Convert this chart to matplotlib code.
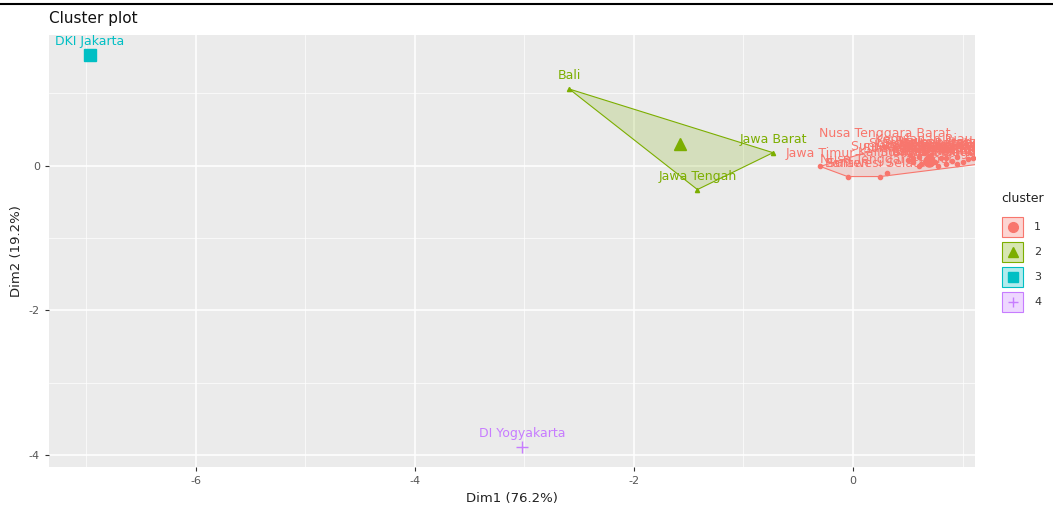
import matplotlib
matplotlib.use("Agg")
import matplotlib.pyplot as plt
from matplotlib.lines import Line2D
from matplotlib.patches import Rectangle, Polygon
import numpy as np

# ─────────────────────────────────────────────
#  DATA
# ─────────────────────────────────────────────
provinsi = [
    "Jawa Timur", "Banten", "Sulawesi Selatan", "Nusa Tenggara Timur",
    "Nusa Tenggara Barat", "Sumatera Utara", "Lampung", "Sumatera Selatan",
    "Aceh", "Sumatera Barat", "Riau", "Jambi", "Bengkulu",
    "Kep. Bangka Belitung", "Kepulauan Riau", "Kalimantan Barat",
    "Kalimantan Tengah", "Kalimantan Selatan", "Kalimantan Timur",
    "Kalimantan Utara", "Sulawesi Utara", "Sulawesi Tengah",
    "Sulawesi Tenggara", "Gorontalo", "Sulawesi Barat", "Maluku",
    "Maluku Utara", "Papua Barat", "Papua",
    "Bali", "Jawa Barat", "Jawa Tengah",
    "DKI Jakarta",
    "DI Yogyakarta",
]
dim1 = [
    -0.30, -0.05, 0.25, 0.31, 0.29, 0.55, 0.62, 0.50, 0.55, 0.60, 0.52,
    0.70, 0.75, 0.80, 0.65, 0.85, 0.90, 0.60, 0.95, 1.00, 0.70, 0.85,
    0.78, 0.95, 1.05, 1.10, 1.15, 1.25, 1.35,
    -2.59, -0.73, -1.42,
    -6.97,
    -3.02,
]
dim2 = [
    -0.01, -0.15, -0.15, -0.10, 0.26, 0.05, 0.02, 0.08, 0.10, 0.12, 0.15,
    0.08, 0.05, 0.10, 0.18, 0.02, 0.07, 0.00, 0.12, 0.05, 0.14, 0.10,
    0.00, 0.03, 0.09, 0.11, 0.06, 0.04, 0.13,
    1.06, 0.18, -0.33,
    1.53,
    -3.89,
]
cluster = [1] * 29 + [2] * 3 + [3] + [4]

x_ticks = [-6, -4, -2, 0]
y_ticks = [0, -2, -4]

# ─────────────────────────────────────────────
#  STYLE
# ─────────────────────────────────────────────
WARNA = {1: "#F8766D", 2: "#7CAE00", 3: "#00BFC4", 4: "#C77CFF"}
BENTUK = {1: "o", 2: "^", 3: "s", 4: "+"}
PANEL = "#EBEBEB"
TEKS = "#555555"

plt.rcParams["font.family"] = ["DejaVu Sans"]


def hull(pts):
    pts = sorted(set(map(tuple, pts)))
    if len(pts) < 3:
        return pts

    def cross(o, a, b):
        return (a[0] - o[0]) * (b[1] - o[1]) - (a[1] - o[1]) * (b[0] - o[0])

    lower, upper = [], []
    for p in pts:
        while len(lower) >= 2 and cross(lower[-2], lower[-1], p) <= 0:
            lower.pop()
        lower.append(p)
    for p in reversed(pts):
        while len(upper) >= 2 and cross(upper[-2], upper[-1], p) <= 0:
            upper.pop()
        upper.append(p)
    return lower[:-1] + upper[:-1]


W, H = 1053, 514
fig = plt.figure(figsize=(W / 100, H / 100), dpi=100, facecolor="white")
ax = fig.add_axes([49 / W, (H - 467) / H, (975 - 49) / W, (467 - 35) / H])
ax.set_facecolor(PANEL)
for s in ax.spines.values():
    s.set_visible(False)

ax.set_xlim(-7.34, 1.114)
ax.set_ylim(-4.166, 1.807)
ax.set_xticks(x_ticks)
ax.set_yticks(y_ticks)
ax.set_xticks([-7, -5, -3, -1, 1], minor=True)
ax.set_yticks([-3, -1, 1], minor=True)
ax.grid(which="major", color="white", linewidth=1.1)
ax.grid(which="minor", color="white", linewidth=0.5)
ax.set_axisbelow(True)
ax.tick_params(which="major", colors="#333333", labelcolor=TEKS, labelsize=8,
               length=3, width=0.8)
ax.tick_params(which="minor", length=0)
ax.set_xticklabels([str(t) for t in x_ticks])
ax.set_yticklabels([str(t) for t in y_ticks])

ax.set_xlabel("Dim1 (76.2%)", fontsize=9.5, color="#222222", labelpad=4)
ax.set_ylabel("Dim2 (19.2%)", fontsize=9.5, color="#222222", labelpad=4)

dim1 = np.array(dim1)
dim2 = np.array(dim2)
cluster = np.array(cluster)

# hulls, points, centroids
for k in [1, 2, 3, 4]:
    m = cluster == k
    xs, ys = dim1[m], dim2[m]
    c = WARNA[k]
    if m.sum() >= 3:
        h = hull(np.column_stack([xs, ys]))
        ax.add_patch(Polygon(h, closed=True, facecolor=c, alpha=0.2,
                             edgecolor="none", zorder=2))
        ax.add_patch(Polygon(h, closed=True, facecolor="none", edgecolor=c,
                             linewidth=0.8, zorder=2))
        ax.plot(xs, ys, linestyle="none", marker=BENTUK[k], color=c,
                markersize=3, zorder=3)
    ax.plot([xs.mean()], [ys.mean()], linestyle="none", marker=BENTUK[k],
            color=c, markersize=8, markeredgewidth=1.0, zorder=4)
    for xi, yi, nm in zip(xs, ys, np.array(provinsi)[m]):
        ax.annotate(nm, (xi, yi), xytext=(0, 9.5), textcoords="offset points",
                    ha="center", va="center", fontsize=9, color=c,
                    clip_on=True, annotation_clip=False, zorder=5)

# title
fig.text(49 / W, 1 - 18 / H, "Cluster plot", fontsize=11, color="#111111",
         ha="left", va="center")

# legend
fig.text(1001 / W, 1 - 199 / H, "cluster", fontsize=9, color="#222222",
         ha="left", va="center")
for i, k in enumerate([1, 2, 3, 4]):
    yc = 227 + i * 25
    fig.add_artist(Rectangle(((1002) / W, 1 - (yc + 10) / H), 21 / W, 20 / H,
                             transform=fig.transFigure, facecolor=WARNA[k],
                             alpha=0.3, edgecolor="none"))
    fig.add_artist(Rectangle(((1002) / W, 1 - (yc + 10) / H), 21 / W, 20 / H,
                             transform=fig.transFigure, facecolor="none",
                             edgecolor=WARNA[k], linewidth=0.8))
    fig.add_artist(Line2D([1012.5 / W], [1 - yc / H], transform=fig.transFigure,
                          marker=BENTUK[k], color=WARNA[k], markersize=7,
                          linestyle="none"))
    fig.text(1034 / W, 1 - yc / H, str(k), fontsize=8, color="#333333",
             ha="left", va="center")

# top border line from the screenshot
fig.add_artist(Line2D([0, 1], [1 - 4 / H, 1 - 4 / H], transform=fig.transFigure,
                      color="black", linewidth=1.5))

plt.savefig("out.png", dpi=100, facecolor="white")
